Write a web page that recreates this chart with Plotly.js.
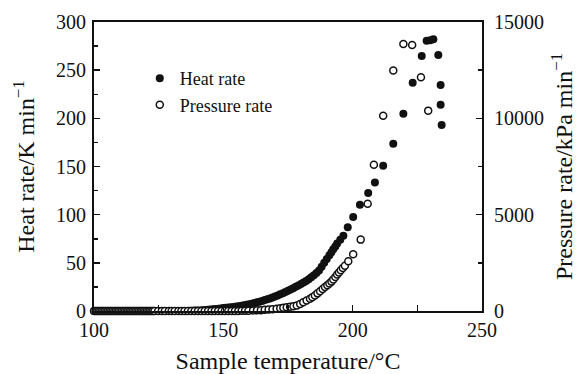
<!DOCTYPE html>
<html>
<head>
<meta charset="utf-8">
<script src="https://cdn.plot.ly/plotly-3.0.1.min.js"></script>
<style>html,body{margin:0;padding:0;background:#fff;}#chart{width:577px;height:374px;}</style>
</head>
<body>
<div id="chart"></div>
<script>
// Heat rate (K/min) vs sample temperature (°C)
const heatTemp = [100,101,102,103,104,105,106,107,108,109,110,111,112,113,114,115,116,117,118,119,
  120,121,122,123,124,125,126,127,128,129,130,131,132,133,134,135,136,137,138,139,
  140,141,142,143,144,145,146,147,148,149,150,151,152,153,154,155,156,157,158,159,
  160,161,162,163,164,165,166,167,168,169,170,171,172,173,174,175,176,177,178,179,
  180,181,182,183,184,185,186,187,188,189,190,191,191.8,192.5,193.3,194,195.2,196.4,198.1,
  200.2,202.8,206,208.6,211.8,215.7,219.6,223.2,226.7,228.6,230,231.2,233.1,234,234,234.4];
const heatRate = [0,0,0,0,0,0,0,0,0,0,0,0,0,0,0,0,0,0,0,0,
  0,0,0,0,0,0,0,0,0,0,0,0,0,0,0,0,0.1,0.2,0.3,0.4,
  0.5,0.6,0.8,1.0,1.2,1.5,1.8,2.1,2.4,2.7,3.0,3.3,3.6,3.9,4.2,4.6,5.0,5.5,6.0,6.5,
  7.0,7.6,8.3,9.0,9.7,10.5,11.3,12.2,13.1,14.0,15.0,16.1,17.3,18.5,19.7,21.0,22.3,23.7,25.1,26.5,
  28,29.6,31.2,33,35,37,39.5,42,46,50,54,58,61,64,67,70,74,78,87,
  97.6,110.4,122.5,133.5,150.8,173.6,204.7,237,264.8,280.6,281,282,265.8,234.7,214,193];

// Pressure rate (kPa/min) vs sample temperature (°C)
const presTemp = [100,100.6,101.2,101.8,102.4,103,103.6,104.2,104.8,105.4,106,106.6,107.2,107.8,108.4,109,109.6,110.2,110.8,111.4,
  112,112.6,113.2,113.8,114.4,115,115.6,116.2,116.8,117.4,118,118.6,119.2,119.8,120.4,121,121.6,122.2,122.8,123.4,
  124.8,126.2,127.4,128.9,130,131.2,132.6,133.8,135,136.3,137.6,138.9,140.2,141.5,142.8,144.1,145.4,146.7,148,149.3,
  150.6,151.9,153.2,154.5,155.8,157.1,158.4,159.7,
  161.5,163,164.5,166,167.5,169,170.6,172,173.2,174.5,175.8,177.1,178.4,179.7,180.9,182.2,183.5,184.4,185.4,186.4,
  187.4,188.4,189.3,190.2,191,191.8,192.5,193.3,194,194.7,195.4,196.2,197,198.3,200.2,203.1,205.8,208.2,211.8,215.7,
  219.6,223,226.4,229.2];
const presRate = [0,0,0,0,0,0,0,0,0,0,0,0,0,0,0,0,0,0,0,0,
  0,0,0,0,0,0,0,0,0,0,0,0,0,0,0,0,0,0,0,0,
  0,0,0,0,0,0,0,0,0,0,0,0,0,0,0,0,0,0,0,0,
  0,0,0,5,5,8,10,12,
  25,35,45,60,75,95,115,140,165,190,215,250,285,365,455,540,630,715,800,915,
  1025,1140,1250,1340,1425,1525,1630,1760,1890,2000,2115,2235,2350,2580,2950,3705,5570,7590,10130,12480,
  13860,13810,12135,10400];

const xTitle = 'Sample temperature/°C';
const yLeftTitle = 'Heat rate/K min<sup>−1</sup>';
const yRightTitle = 'Pressure rate/kPa min<sup>−1</sup>';

const FONT = 'Liberation Serif, Times New Roman, serif';

const traces = [
  {x: heatTemp, y: heatRate, type: 'scatter', mode: 'markers', name: 'Heat rate',
   marker: {symbol: 'circle', size: 8, color: '#111111', line: {width: 0}}, cliponaxis: false, yaxis: 'y'},
  {x: presTemp, y: presRate, type: 'scatter', mode: 'markers', name: 'Pressure rate',
   marker: {symbol: 'circle', size: 7, color: '#ffffff', line: {width: 1.5, color: '#111111'}}, cliponaxis: false, yaxis: 'y2'}
];

const axisCommon = {
  showgrid: false, zeroline: false, showline: true, linecolor: '#111', linewidth: 2,
  ticks: 'inside', ticklen: 6, tickwidth: 1.5, tickcolor: '#111',
  tickfont: {family: FONT, size: 20, color: '#111'}
};

const layout = {
  width: 577, height: 374,
  margin: {l: 94, r: 95, t: 22, b: 63},
  paper_bgcolor: '#fff', plot_bgcolor: '#fff',
  font: {family: FONT, color: '#111'},
  showlegend: true,
  legend: {x: 0.118, y: 0.868, xanchor: 'left', yanchor: 'top', bgcolor: 'rgba(0,0,0,0)',
    font: {family: FONT, size: 18, color: '#111'}, tracegroupgap: 0, itemwidth: 30},
  xaxis: Object.assign({}, axisCommon, {
    range: [100, 250], tick0: 100, dtick: 50, mirror: true,
    minor: {dtick: 25, ticks: 'inside', ticklen: 6, tickwidth: 1.5, tickcolor: '#111'},
    title: {text: xTitle, font: {family: FONT, size: 24, color: '#111'}, standoff: 13}
  }),
  yaxis: Object.assign({}, axisCommon, {
    range: [0, 300], tick0: 0, dtick: 50, ticklabelstandoff: 2,
    minor: {dtick: 25, ticks: 'inside', ticklen: 4, tickwidth: 1.5, tickcolor: '#111'},
    title: {text: yLeftTitle, font: {family: FONT, size: 24, color: '#111'}, standoff: 15}
  }),
  yaxis2: Object.assign({}, axisCommon, {
    range: [0, 15000], tick0: 0, dtick: 5000, overlaying: 'y', side: 'right',
    tickformat: 'd', exponentformat: 'none', separatethousands: false, ticklabelstandoff: 6,
    minor: {dtick: 2500, ticks: 'inside', ticklen: 4, tickwidth: 1.5, tickcolor: '#111'},
    title: {text: yRightTitle, font: {family: FONT, size: 24, color: '#111'}, standoff: 14}
  })
};

Plotly.newPlot('chart', traces, layout, {displayModeBar: false, staticPlot: true});
</script>
</body>
</html>
